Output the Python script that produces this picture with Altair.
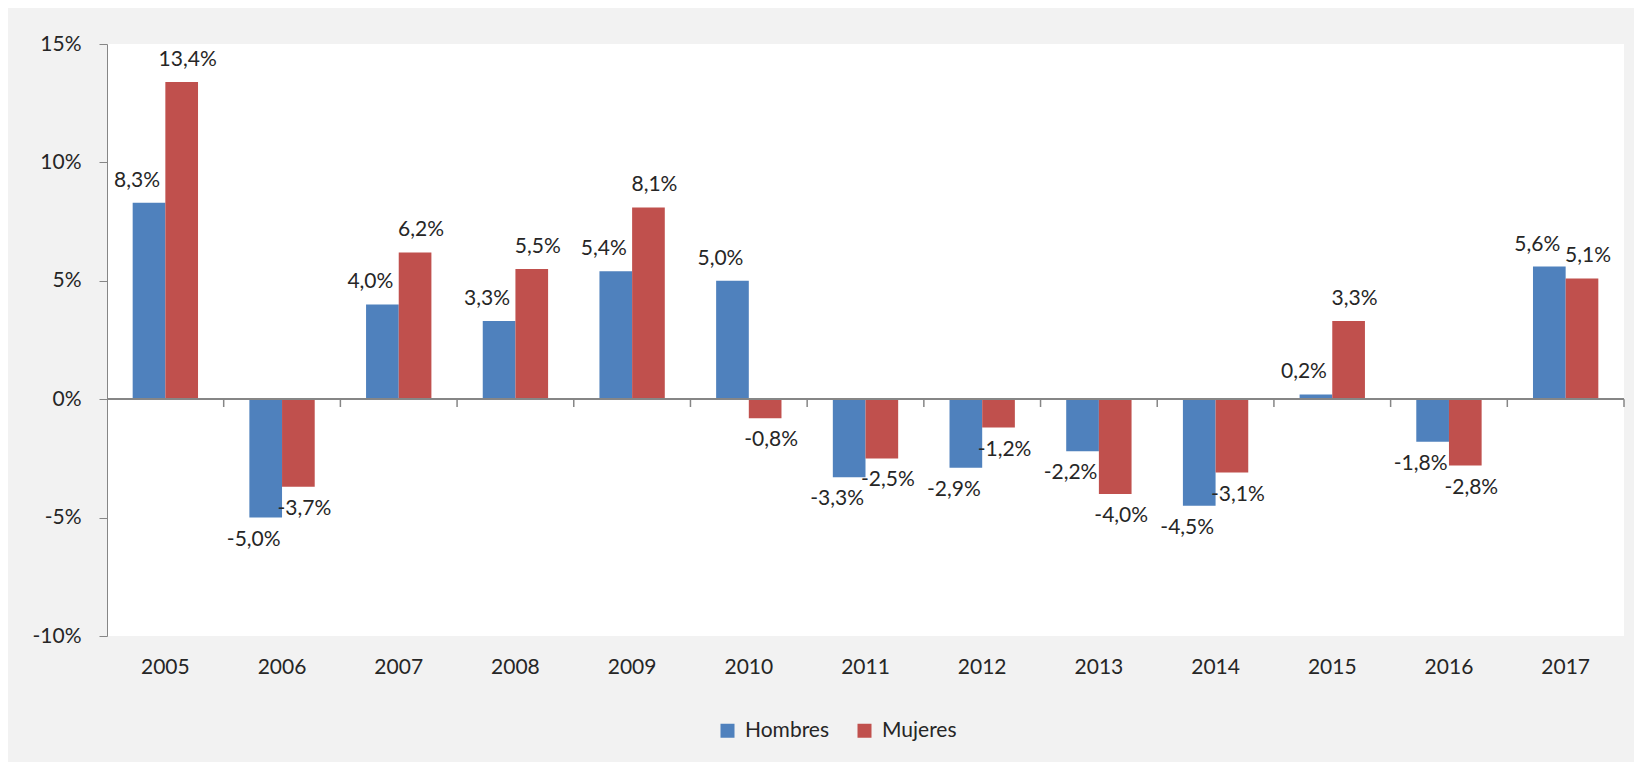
import altair as alt
import pandas as pd

years = ["2005", "2006", "2007", "2008", "2009", "2010", "2011",
         "2012", "2013", "2014", "2015", "2016", "2017"]
hombres = [8.3, -5.0, 4.0, 3.3, 5.4, 5.0, -3.3, -2.9, -2.2, -4.5, 0.2, -1.8, 5.6]
mujeres = [13.4, -3.7, 6.2, 5.5, 8.1, -0.8, -2.5, -1.2, -4.0, -3.1, 3.3, -2.8, 5.1]
series = ["Hombres", "Mujeres"]
colors = ["#4F81BD", "#C0504D"]
y_ticks = [-10, -5, 0, 5, 10, 15]

rows = []
for i, y in enumerate(years):
    for s, vals in zip(series, [hombres, mujeres]):
        v = vals[i]
        rows.append({"year": y, "serie": s, "value": v,
                     "label": f"{v:.1f}".replace(".", ",") + "%"})
df = pd.DataFrame(rows)

W, H = 1517, 592
FONT = "Lato"
FS = 21
TXT = "#262626"

x_scale = alt.Scale(domain=years, paddingInner=0.44, paddingOuter=0.22)
y_scale = alt.Scale(domain=[-10, 15], nice=False, zero=False)
xo_scale = alt.Scale(domain=series, paddingInner=0, paddingOuter=0)

base = alt.Chart(df)

bars = base.mark_bar().encode(
    x=alt.X("year:N", scale=x_scale, sort=years,
            axis=alt.Axis(title=None, labelAngle=0, domain=False, ticks=False,
                          labelPadding=20, labelFontSize=FS, labelFont=FONT,
                          labelColor=TXT)),
    xOffset=alt.XOffset("serie:N", scale=xo_scale, sort=series),
    y=alt.Y("value:Q", scale=y_scale,
            axis=alt.Axis(title=None, values=y_ticks, grid=False,
                          labelExpr="datum.value + '%'", tickSize=8,
                          labelPadding=18, labelFontSize=FS, labelFont=FONT,
                          labelColor=TXT, domainColor="#868686",
                          tickColor="#868686")),
    color=alt.Color("serie:N", sort=series,
                    scale=alt.Scale(domain=series, range=colors),
                    legend=alt.Legend(title=None, orient="none", legendX=610,
                                      legendY=676, direction="horizontal",
                                      symbolType="square", symbolSize=196,
                                      symbolStrokeWidth=0, labelFontSize=FS,
                                      labelFont=FONT, labelColor=TXT,
                                      columnPadding=24, labelOffset=7,
                                      padding=0)),
)

zero = base.mark_rule(color="#868686", strokeWidth=1.5).encode(
    x=alt.value(0), x2=alt.value(W), y=alt.datum(0))

ticks_df = pd.DataFrame({"year": years})
ticks = alt.Chart(ticks_df).mark_rule(color="#868686", strokeWidth=1.5,
                                      xOffset=W / len(years) / 2).encode(
    x=alt.X("year:N", sort=years),
    y=alt.datum(0), y2=alt.datum(-0.33))


def label_layer(serie, positive, dx):
    cond = ("datum.value >= 0" if positive else "datum.value < 0")
    cond += f" && datum.serie == '{serie}'"
    return base.transform_filter(cond).mark_text(
        baseline="middle", dy=-22 if positive else 22, dx=dx,
        font=FONT, fontSize=FS, color=TXT).encode(
        x=alt.X("year:N", sort=years),
        xOffset=alt.XOffset("serie:N", sort=series),
        y="value:Q", text="label:N")


labels = [label_layer("Hombres", True, -12), label_layer("Mujeres", True, 6),
          label_layer("Hombres", False, -12), label_layer("Mujeres", False, 6)]

chart = alt.layer(bars, zero, ticks, *labels).properties(
    width=W, height=H,
    background="#F2F2F2",
    autosize=alt.AutoSizeParams(type="none"),
    padding={"left": 99, "top": 36, "right": 10, "bottom": 126},
).configure(font=FONT).configure_view(fill="white", stroke=None)

chart.save("out.html", embed_options={"renderer": "svg", "actions": False})
